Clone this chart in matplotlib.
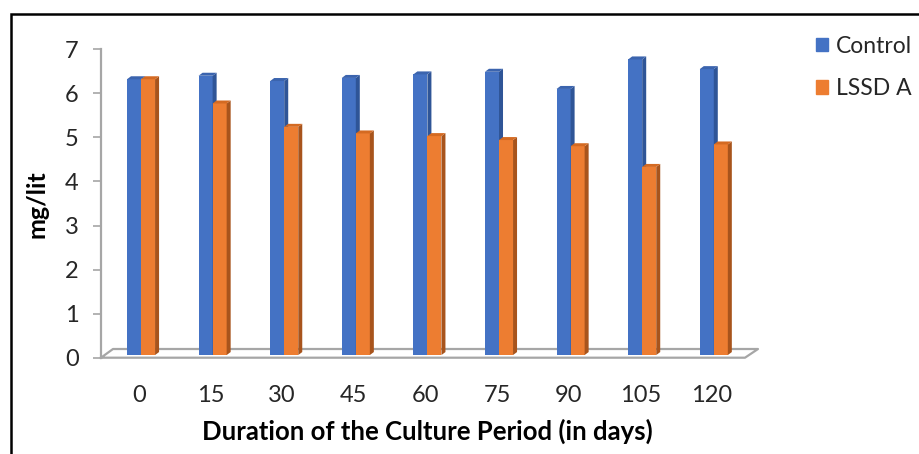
import numpy as np
import matplotlib
matplotlib.use("Agg")
import matplotlib.pyplot as plt
from matplotlib.patches import Polygon, Rectangle, Patch

plt.rcParams['font.family'] = ['Lato', 'DejaVu Sans']

# data
days = ['0', '15', '30', '45', '60', '75', '90', '105', '120']
control = [6.26, 6.34, 6.22, 6.29, 6.37, 6.43, 6.04, 6.71, 6.49]
lssd_a = [6.26, 5.71, 5.18, 5.03, 4.97, 4.88, 4.74, 4.27, 4.78]

series = [('Control', control, '#4472C4', '#2F5597', '#3B64AE'),
          ('LSSD A', lssd_a, '#ED7D31', '#A8541C', '#D46A22')]

W, H = 919, 454
fig = plt.figure(figsize=(W / 100, H / 100), dpi=100)
# axes box in pixels: left spine at x=101, y=0 at 357.7, y=7 at 49.3
ax = fig.add_axes([101 / W, (H - 357.7) / H, (745 - 101) / W, (357.7 - 49.3) / H])
axw, axh = 745 - 101, 357.7 - 49.3

x = np.arange(len(days))
bw = 0.196          # bar width (category units)
shift = 0.028       # bars sit a bit right of the label
lift = 0.06         # bars stand a little back on the floor
dx, dy = 0.056, 0.068  # fake depth of each bar

for k, (name, vals, front, side, top) in enumerate(series):
    left = x + shift - bw + k * bw
    ax.bar(left, vals, width=bw, bottom=lift, align='edge', color=front,
           edgecolor='none', zorder=2 + k)
    for xl, v in zip(left, vals):
        yt = v + lift
        xr = xl + bw
        ax.add_patch(Polygon([(xr, lift), (xr + dx, lift + dy), (xr + dx, yt + dy), (xr, yt)],
                             closed=True, color=side, lw=0, zorder=2 + k))
        ax.add_patch(Polygon([(xl, yt), (xl + dx, yt + dy), (xr + dx, yt + dy), (xr, yt)],
                             closed=True, color=top, lw=0, zorder=2 + k))

ax.set_xlim(-0.531, 8.464)
ax.set_ylim(0, 7)

# floor outline
ux = 71.6   # px per category
uy = 44.06  # px per unit
fx0, fx1 = -0.531, 8.464
fdx, fdy = 13 / ux, 8.7 / uy
ax.plot([fx0, fx1, fx1 + fdx, fx0 + 12 / ux, fx0], [0, 0, fdy, fdy, 0],
        color='#A6A6A6', lw=1.6, clip_on=False, zorder=1)

for s in ['top', 'right', 'bottom']:
    ax.spines[s].set_visible(False)
ax.spines['left'].set_color('#A6A6A6')
ax.spines['left'].set_linewidth(1.6)

ax.set_yticks(range(8))
ax.tick_params(axis='y', length=6, width=1.2, color='#A6A6A6', pad=10,
               labelsize=17, labelcolor='#262626')
ax.set_xticks(x)
ax.set_xticklabels(days)
ax.tick_params(axis='x', length=0, pad=20, labelsize=17, labelcolor='#262626')

ax.set_xlabel('Duration of the Culture Period (in days)', fontsize=18.5,
              fontweight='bold')
ax.set_ylabel('mg/lit', fontsize=18, fontweight='bold')
ax.xaxis.set_label_coords((427 - 101) / axw, (357.7 - 419) / axh)
ax.yaxis.set_label_coords((48 - 101) / axw, (357.7 - 204) / axh)

handles = [Patch(color=c) for _, _, c, _, _ in series]
fig.legend(handles, [s[0] for s in series], loc='upper left',
           bbox_to_anchor=(795 / W, 1 - 15 / H), frameon=False, fontsize=16.5,
           handlelength=0.55, handleheight=0.55, handletextpad=0.35,
           labelspacing=0.95, labelcolor='#262626')

# chart border
fig.add_artist(Rectangle((11 / W, -0.1), 1.2, (H - 14) / H + 0.1,
                         transform=fig.transFigure, fill=False,
                         ec='black', lw=1.8))

fig.savefig('out.png', dpi=100)
